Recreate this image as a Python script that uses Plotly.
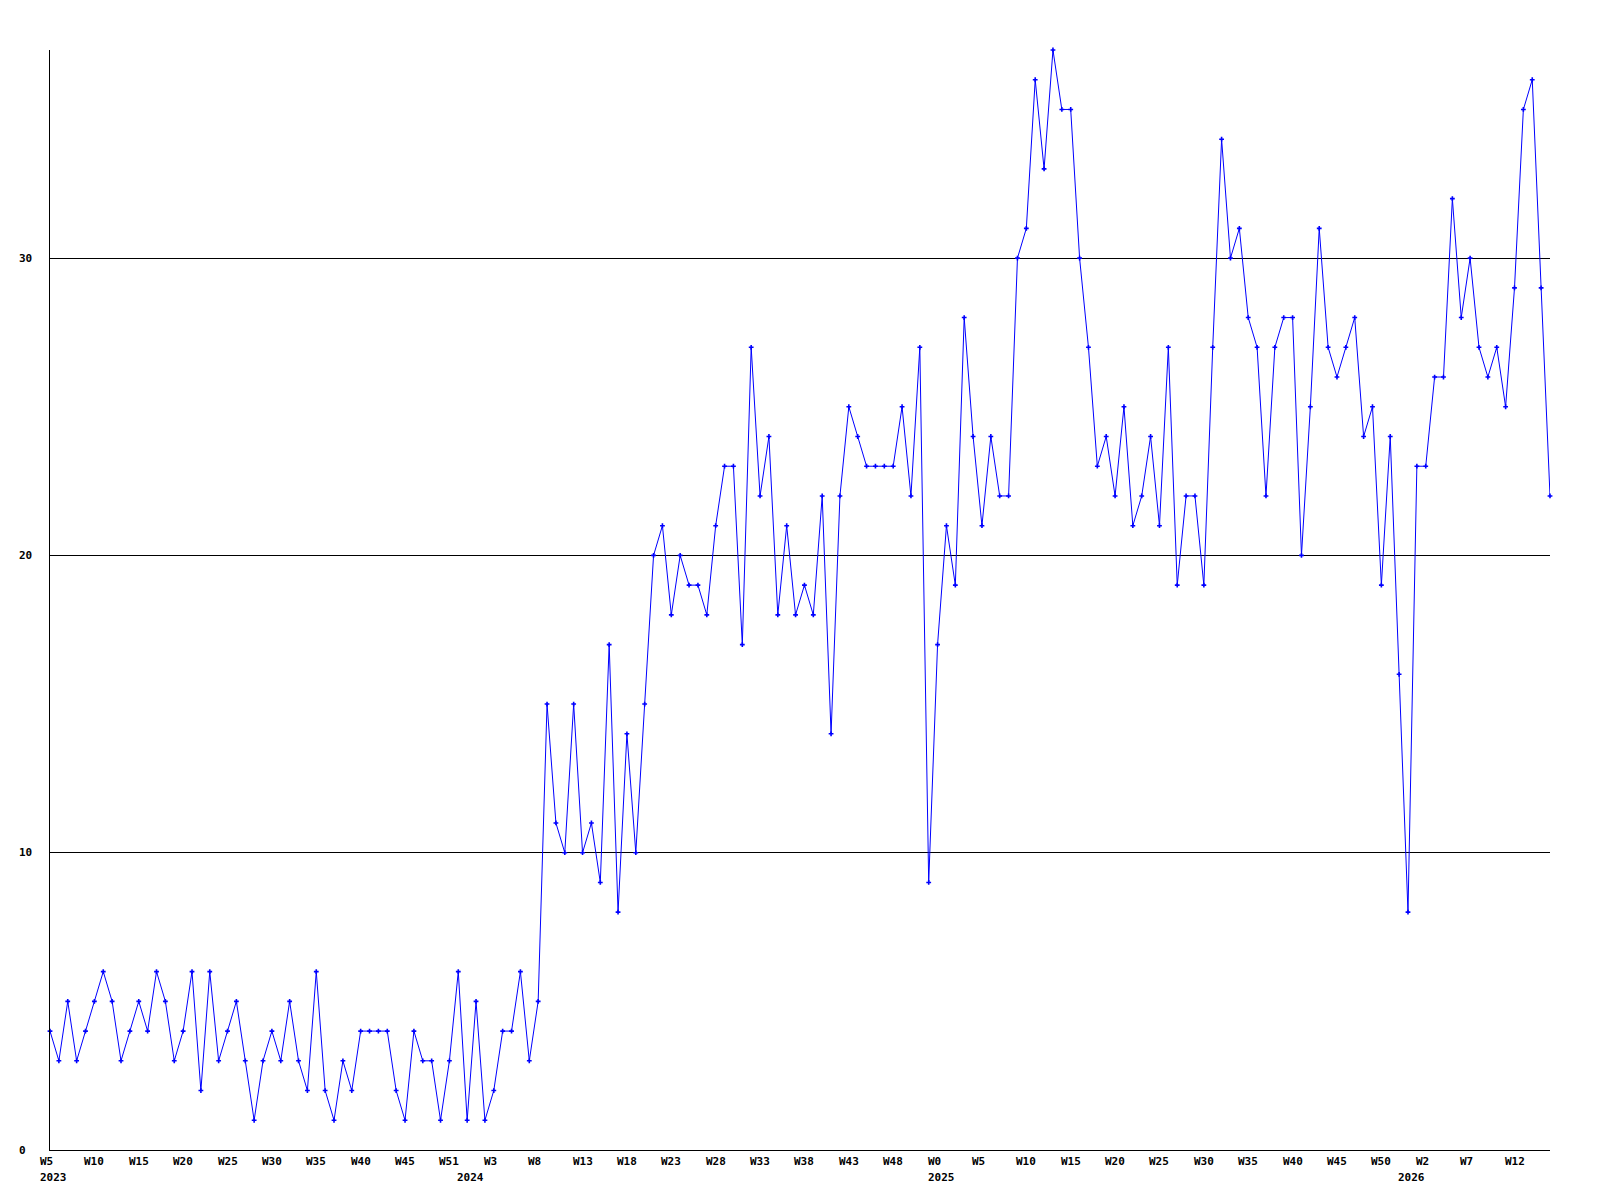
import plotly.graph_objects as go

# weekly values, 2023 W5 .. 2026 W16 (170 weeks)
values = [
    4, 3, 5, 3, 4, 5, 6, 5, 3, 4,
    5, 4, 6, 5, 3, 4, 6, 2, 6, 3,
    4, 5, 3, 1, 3, 4, 3, 5, 3, 2,
    6, 2, 1, 3, 2, 4, 4, 4, 4, 2,
    1, 4, 3, 3, 1, 3, 6, 1, 5, 1,
    2, 4, 4, 6, 3, 5, 15, 11, 10, 15,
    10, 11, 9, 17, 8, 14, 10, 15, 20, 21,
    18, 20, 19, 19, 18, 21, 23, 23, 17, 27,
    22, 24, 18, 21, 18, 19, 18, 22, 14, 22,
    25, 24, 23, 23, 23, 23, 25, 22, 27, 9,
    17, 21, 19, 28, 24, 21, 24, 22, 22, 30,
    31, 36, 33, 37, 35, 35, 30, 27, 23, 24,
    22, 25, 21, 22, 24, 21, 27, 19, 22, 22,
    19, 27, 34, 30, 31, 28, 27, 22, 27, 28,
    28, 20, 25, 31, 27, 26, 27, 28, 24, 25,
    19, 24, 16, 8, 23, 23, 26, 26, 32, 28,
    30, 27, 26, 27, 25, 29, 35, 36, 29, 22,
]
week_index = list(range(len(values)))

# x tick labels (every 5th week)
tick_positions = list(range(0, 170, 5))
tick_labels = ["W5", "W10", "W15", "W20", "W25", "W30", "W35", "W40", "W45", "W51",
               "W3", "W8", "W13", "W18", "W23", "W28", "W33", "W38", "W43", "W48",
               "W0", "W5", "W10", "W15", "W20", "W25", "W30", "W35", "W40", "W45",
               "W50", "W2", "W7", "W12"]
year_labels = ["2023", "2024", "2025", "2026"]
year_positions = [0, 47, 100, 153]

y_ticks = [0, 10, 20, 30]

FONT = dict(family="DejaVu Sans Mono", size=11, color="black", weight="bold")

fig = go.Figure()
fig.add_trace(go.Scatter(
    x=week_index, y=values, mode="lines+markers",
    line=dict(color="#0000ff", width=1),
    marker=dict(symbol="cross", size=4, color="#0000ff", line=dict(width=0)),
    cliponaxis=False, showlegend=False, hoverinfo="skip",
))

annotations = []
for lab, pos in zip(year_labels, year_positions):
    annotations.append(dict(x=pos, y=0, xref="x", yref="y", text=lab, showarrow=False,
                            xanchor="left", yanchor="middle", xshift=-12, yshift=-27,
                            font=FONT))
for lab, pos in zip(tick_labels, tick_positions):
    annotations.append(dict(x=pos, y=0, xref="x", yref="y", text=lab, showarrow=False,
                            xanchor="left", yanchor="middle", xshift=-12, yshift=-11,
                            font=FONT))
for v in y_ticks:
    annotations.append(dict(x=0, y=v, xref="paper", yref="y", text=str(v), showarrow=False,
                            xanchor="left", yanchor="middle", xshift=-33, font=FONT))

fig.update_layout(
    width=1592, height=1192, autosize=False,
    margin=dict(l=42, r=50, t=42, b=50),
    paper_bgcolor="white", plot_bgcolor="white",
    annotations=annotations,
    xaxis=dict(range=[0, len(values) - 1], showgrid=False, zeroline=False,
               showline=True, linecolor="black", linewidth=1,
               tickvals=tick_positions, ticktext=tick_labels, showticklabels=False,
               ticks=""),
    yaxis=dict(range=[0, 37], showgrid=True, gridcolor="black", gridwidth=1,
               zeroline=False, showline=True, linecolor="black", linewidth=1,
               tickvals=y_ticks, showticklabels=False, ticks=""),
)

fig.write_html("out.html")
